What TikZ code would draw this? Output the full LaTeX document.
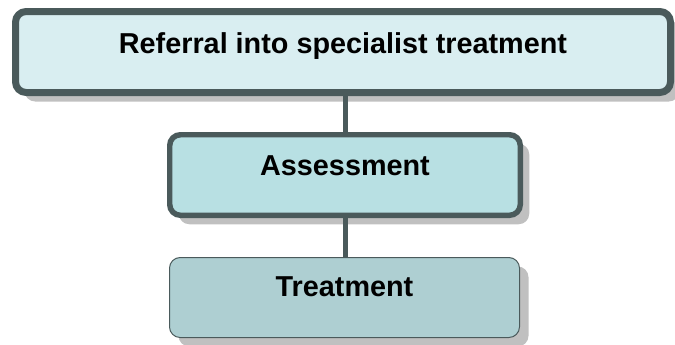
\documentclass[tikz,border=0pt]{standalone}
\usepackage{fontspec}
\setmainfont{Liberation Sans}
\usepackage{tikz}
\usetikzlibrary{shadows}
\definecolor{boxline}{HTML}{4A5A5B}
\definecolor{paleblue}{HTML}{D9EEF1}
\definecolor{midblue}{HTML}{B8E0E3}
\definecolor{greyblue}{HTML}{AECFD2}
\definecolor{shadowgrey}{HTML}{C0C0C0}

\begin{document}
\begin{tikzpicture}[x=0.75pt, y=-0.75pt]
\useasboundingbox (0,0) rectangle (675,344);
\tikzstyle{stage}=[rectangle, rounded corners=8pt, draw=boxline, inner sep=0pt, text height=15pt,
  font=\fontsize{21.6}{26}\selectfont\bfseries,
  drop shadow={shadow xshift=6.75pt, shadow yshift=-6.75pt, fill=shadowgrey, opacity=1}]
\tikzstyle{link}=[line width=3.75pt, draw=boxline]
%%
\node (s1) at (343,52) [stage, fill=paleblue, line width=5.25pt, minimum width=491.25pt, minimum height=60.75pt, text depth=13.5pt] {Referral into specialist treatment};
\node (s2) at (345,175) [stage, fill=midblue, line width=4.1pt, minimum width=262.9pt, minimum height=60.4pt, text depth=15pt] {Assessment};
\node (s3) at (344.5,297.5) [stage, fill=greyblue, line width=0.75pt, minimum width=262.5pt, minimum height=60pt, text depth=17.25pt] {Treatment};

\draw [link] (s1.south -| s2.north) -- (s2.north);
\draw [link] (s2.south) -- (s2.south |- s3.north);
\end{tikzpicture}
\end{document}
